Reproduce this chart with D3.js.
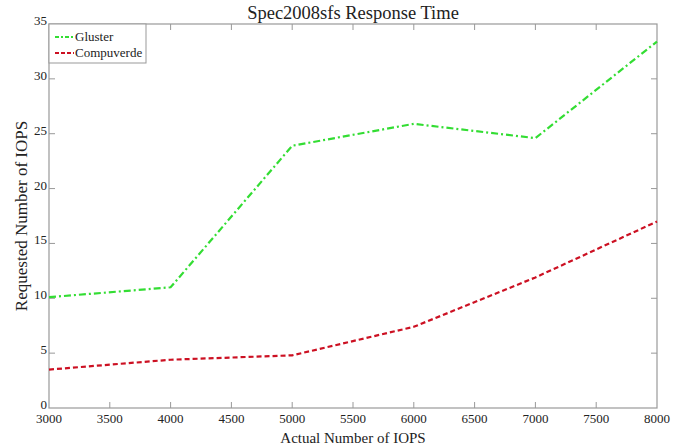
<!DOCTYPE html>
<html>
<head>
<meta charset="utf-8">
<script src="https://cdn.jsdelivr.net/npm/d3@7"></script>
<style>
  body { margin: 0; background: #fff; }
  text { font-family: "Liberation Serif", "DejaVu Serif", serif; fill: #222; }
</style>
</head>
<body>
<div id="chart"></div>
<script>
const iops = [3000, 4000, 5000, 6000, 7000, 8000]
const gluster = [10.1, 11.0, 23.9, 25.9, 24.6, 33.4]
const compuverde = [3.5, 4.4, 4.8, 7.4, 11.9, 17.0]
const xTicks = [3000, 3500, 4000, 4500, 5000, 5500, 6000, 6500, 7000, 7500, 8000]
const yTicks = [0, 5, 10, 15, 20, 25, 30, 35]

const width = 676, height = 446
const m = { left: 49, right: 19, top: 24, bottom: 38 }

const svg = d3.select('#chart').append('svg').attr('width', width).attr('height', height)

const x = d3.scaleLinear().domain([3000, 8000]).range([m.left, width - m.right])
const y = d3.scaleLinear().domain([0, 35]).range([height - m.bottom, m.top])

const axisColor = '#999'

// frame
svg.append('rect')
  .attr('x', x(3000)).attr('y', y(35))
  .attr('width', x(8000) - x(3000)).attr('height', y(0) - y(35))
  .attr('fill', 'none').attr('stroke', axisColor).attr('stroke-width', 1.2)

// ticks (inside, mirrored on all sides)
const tk = svg.append('g').attr('stroke', axisColor).attr('stroke-width', 1)
xTicks.slice(1, -1).forEach(t => {
  tk.append('line').attr('x1', x(t)).attr('x2', x(t)).attr('y1', y(0)).attr('y2', y(0) - 6)
  tk.append('line').attr('x1', x(t)).attr('x2', x(t)).attr('y1', y(35)).attr('y2', y(35) + 6)
})
yTicks.slice(1, -1).forEach(t => {
  tk.append('line').attr('x1', x(3000)).attr('x2', x(3000) + 6).attr('y1', y(t)).attr('y2', y(t))
  tk.append('line').attr('x1', x(8000)).attr('x2', x(8000) - 6).attr('y1', y(t)).attr('y2', y(t))
})

// tick labels
svg.append('g').selectAll('text').data(xTicks).join('text')
  .attr('x', d => x(d)).attr('y', y(0) + 15)
  .attr('text-anchor', 'middle').attr('font-size', 13)
  .text(d => d)
svg.append('g').selectAll('text').data(yTicks).join('text')
  .attr('x', x(3000) - 2).attr('y', d => y(d) + 1)
  .attr('text-anchor', 'end').attr('font-size', 13)
  .text(d => d)

// titles
svg.append('text').attr('x', 353).attr('y', 19).attr('text-anchor', 'middle')
  .attr('font-size', 18.5).text('Spec2008sfs Response Time')
svg.append('text').attr('x', 353).attr('y', 443).attr('text-anchor', 'middle')
  .attr('font-size', 15).text('Actual Number of IOPS')
svg.append('text').attr('transform', 'translate(27,' + (y(17.5)) + ') rotate(-90)')
  .attr('text-anchor', 'middle').attr('font-size', 17).text('Requested Number of IOPS')

// lines
const series = [
  { name: 'Gluster', values: gluster, color: '#33dd33', dash: '7,3,2,3' },
  { name: 'Compuverde', values: compuverde, color: '#cc1022', dash: '5,3' }
]
const line = d3.line().x((d, i) => x(iops[i])).y(d => y(d))
series.forEach(s => {
  svg.append('path').datum(s.values)
    .attr('d', line)
    .attr('fill', 'none')
    .attr('stroke', s.color)
    .attr('stroke-width', 2.2)
    .attr('stroke-dasharray', s.dash)
})

// legend
const lg = svg.append('g')
lg.append('rect').attr('x', x(3000)).attr('y', y(35)).attr('width', 97).attr('height', 39)
  .attr('fill', '#fff').attr('stroke', axisColor).attr('stroke-width', 1)
series.forEach((s, i) => {
  const ly = y(35) + 13 + i * 16
  lg.append('line').attr('x1', x(3000) + 6).attr('x2', x(3000) + 25).attr('y1', ly).attr('y2', ly)
    .attr('stroke', s.color).attr('stroke-width', 2.2).attr('stroke-dasharray', i === 0 ? '4,2,2,2' : '4,2')
  lg.append('text').attr('x', x(3000) + 26).attr('y', ly + 4).attr('font-size', 13).text(s.name)
})
</script>
</body>
</html>
